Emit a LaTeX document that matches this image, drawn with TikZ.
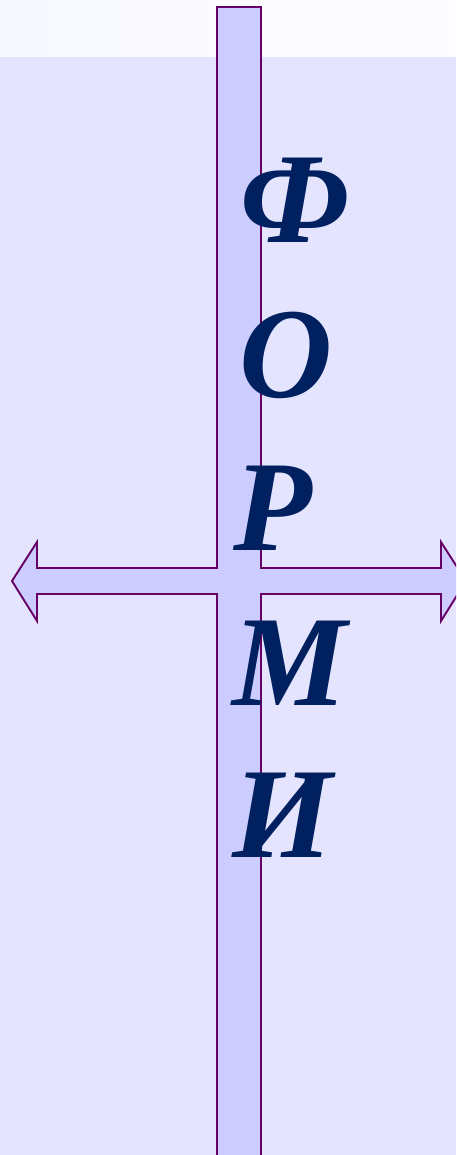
\documentclass[tikz,border=0pt]{standalone}
\usepackage{fontspec}
\setmainfont{Liberation Serif}
\usepackage{tikz}
\usetikzlibrary{positioning}
\usepackage{xcolor}

\definecolor{pagebg}{HTML}{E4E4FF}
\definecolor{stripbg}{HTML}{F7F7FF}
\definecolor{barfill}{HTML}{CCCCFF}
\definecolor{baredge}{HTML}{660066}
\definecolor{letterblue}{HTML}{002060}

\begin{document}
\begin{tikzpicture}[
  x=1pt, y=-1pt,
  crossbar/.style={draw=baredge, fill=barfill, line width=1.9pt, line join=miter},
  letter/.style={anchor=base west, inner sep=0pt, text=letterblue,
    font=\fontsize{129}{153}\selectfont\bfseries\itshape},
]
  % Background
  \useasboundingbox (0,0) rectangle (456,1155);
  \fill[pagebg] (0,0) rectangle (456,1155);
  \shade[left color=stripbg, right color=white!70!stripbg] (0,0) rectangle (456,57);

  \begin{scope}
    \clip (0,0) rectangle (456,1155);
    % Cross: vertical bar with double arrow
    \draw[crossbar] (217,1165) -- (217,594) -- (37,594) -- (37,621) -- (12,581)
      -- (37,542) -- (37,568) -- (217,568) -- (217,7) -- (261,7) -- (261,568)
      -- (441,568) -- (441,542) -- (466,581) -- (441,621) -- (441,594)
      -- (261,594) -- (261,1165);
  \end{scope}

  % Letters
  \node[letter] (f) at (240,243) {Ф};
  \node[letter] (o) at (239,397) {О};
  \node[letter] (r) at (233,550) {Р};
  \node[letter] (m) at (232,705) {М};
  \node[letter] (i) at (232,857) {И};
\end{tikzpicture}
\end{document}
